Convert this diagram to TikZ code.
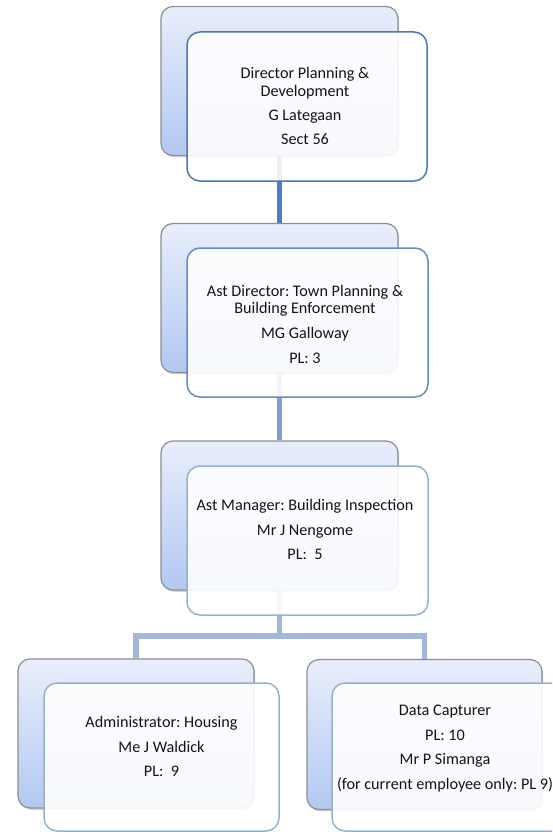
\documentclass[tikz,border=0pt]{standalone}
\usepackage{fontspec}
\setmainfont{Carlito}
\usetikzlibrary{shadows}
\frenchspacing

\definecolor{backline}{HTML}{8E8E8E}
\definecolor{backtop}{HTML}{E9EEFB}
\definecolor{backbot}{HTML}{B2C8F2}
\definecolor{edgeA}{HTML}{4A78BA}
\definecolor{edgeB}{HTML}{5F8BC8}
\definecolor{edgeC}{HTML}{94AFD8}
\definecolor{linkA}{HTML}{4E7CC0}
\definecolor{linkB}{HTML}{819FD0}
\definecolor{linkC}{HTML}{A3B7DB}
\definecolor{textc}{HTML}{141414}

\pgfdeclarelayer{bg}
\pgfsetlayers{bg,main}

\begin{document}
\begin{tikzpicture}[x=1pt,y=-1pt,
  backbox/.style={rounded corners=12pt, draw=backline, line width=1.2pt,
    top color=backtop, bottom color=backbot,
    minimum width=237pt, minimum height=149pt, inner sep=0pt,
    drop shadow={opacity=0.35, shadow xshift=1.2pt, shadow yshift=-1.8pt}},
  frontbox/.style={rounded corners=13pt, draw=#1, line width=1.5pt,
    fill=white, fill opacity=0.9,
    minimum width=240pt, minimum height=149pt, inner sep=0pt},
  label/.style={align=center, text=textc, inner sep=0pt,
    font=\fontsize{16.2}{17.5}\selectfont},
  link/.style={draw=#1, line width=5.5pt}]

\useasboundingbox (0,0) rectangle (552,832);
\clip (0,0) rectangle (552,832);

% back cards
\node[backbox] (b1) at (279.5,81) {};
\node[backbox] (b2) at (279.5,298) {};
\node[backbox] (b3) at (279.5,515.5) {};
\node[backbox, minimum width=236pt] (b4) at (136,733.5) {};
\node[backbox, minimum width=235pt, minimum height=150pt] (b5) at (424.5,734.5) {};

% front cards
\node[frontbox=edgeA] (f1) at (307,106.5) {};
\node[frontbox=edgeB, minimum width=241pt] (f2) at (307.5,322.5) {};
\node[frontbox=edgeC, minimum width=241pt] (f3) at (307.5,540.5) {};
\node[frontbox=edgeC, minimum width=235pt, minimum height=148pt] (f4) at (161.5,757) {};
\node[frontbox=edgeC, minimum width=235pt, minimum height=148pt] (f5) at (449.5,757) {};

% labels
\node[label] (t1) at (305,106) {Director Planning \&\\Development\\[6.5pt]G Lategaan\\[6.5pt]Sect 56};
\node[label] (t2) at (305,324.5) {Ast Director: Town Planning \&\\Building Enforcement\\[7.5pt]MG Galloway\\[7.5pt]PL: 3};
\node[label] (t3) at (305,529.5) {Ast Manager: Building Inspection\\[7pt]Mr J Nengome\\[7pt]PL:\ \ 5};
\node[label] (t4) at (161.5,746.5) {Administrator: Housing\\[7pt]Me J Waldick\\[7pt]PL:\ \ 9};
\node[label] (t5) at (445,748.5) {Data Capturer\\[7pt]PL: 10\\[7pt]Mr P Simanga\\[7pt](for current employee only: PL 9)};

% reporting lines
\coordinate (split) at (279.5,636);
\begin{pgfonlayer}{bg}
  \draw[link=linkA] (b1.south) -- (b2.north);
  \draw[link=linkB] (b2.south) -- (b3.north);
  \draw[link=linkC] (b3.south) -- (split);
  \draw[link=linkC] (split) -| (b4.north);
  \draw[link=linkC] (split) -| (b5.north);
\end{pgfonlayer}
\end{tikzpicture}
\end{document}
